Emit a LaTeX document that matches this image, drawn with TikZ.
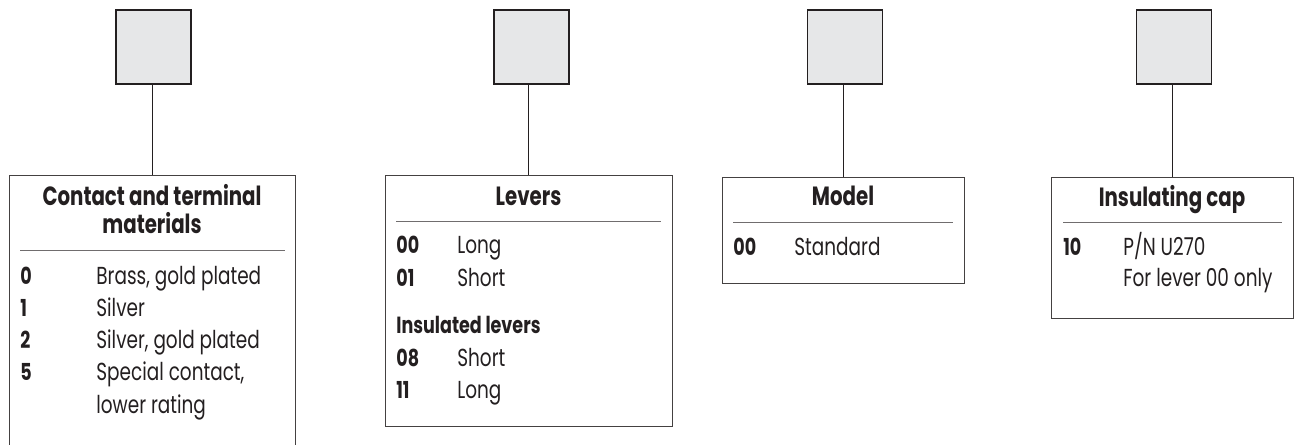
\documentclass[tikz,border=0pt]{standalone}
\usepackage{fontspec}
\setmainfont{Poppins}[FakeStretch=0.75]
\usepackage{tikz}
\usetikzlibrary{shapes,arrows}
\usepackage{xcolor}
\definecolor{boxgray}{HTML}{E6E7E8}
\definecolor{ink}{HTML}{231F20}
\tikzstyle{codebox} = [rectangle, minimum width=1.5cm, minimum height=1.48cm, inner sep=0pt, draw=ink, line width=1pt, fill=boxgray]
\tikzstyle{panel} = [rectangle, inner sep=0pt, draw=ink!85, line width=0.5pt]
\tikzstyle{head} = [anchor=base, inner sep=0pt, text=ink, font=\bfseries\fontsize{15}{18}\selectfont]
\tikzstyle{code} = [anchor=base west, inner sep=0pt, text=ink, font=\bfseries\fontsize{13.3}{16}\selectfont]
\tikzstyle{entry} = [anchor=base west, inner sep=0pt, text=ink, font=\fontsize{14}{17}\selectfont]
\tikzstyle{rule} = [draw=ink!65, line width=0.5pt]
\tikzstyle{link} = [draw=ink, line width=0.5pt]

\begin{document}
\begin{tikzpicture}[x=0.02cm, y=-0.02cm]
    \useasboundingbox (0,0) rectangle (1301,445);
    % code squares
    \node (sq1) [codebox] at (153.5,47) {};
    \node (sq2) [codebox] at (531.5,47) {};
    \node (sq3) [codebox] at (845,47) {};
    \node (sq4) [codebox] at (1174,47) {};

    % option tables
    \node (tab1) [panel, minimum width=5.72cm, minimum height=5.9cm] at (152,322.5) {};
    \node (tab2) [panel, minimum width=5.74cm, minimum height=5.02cm] at (528.5,300.5) {};
    \node (tab3) [panel, minimum width=4.84cm, minimum height=2.12cm] at (843,230) {};
    \node (tab4) [panel, minimum width=4.84cm, minimum height=2.82cm] at (1172,247.5) {};

    \draw [link] (tab1.north) -- (tab1.north |- sq1.south);
    \draw [link] (tab2.north) -- (tab2.north |- sq2.south);
    \draw [link] (tab3.north) -- (tab3.north |- sq3.south);
    \draw [link] (tab4.north) -- (tab4.north |- sq4.south);

    % contact and terminal materials
    \node (hd1a) [head] at (152,206) {Contact and terminal};
    \node (hd1b) [head] at (152,234) {materials};
    \draw [rule] (20,250) -- (285,250);
    \node (c10) [code] at (20,285) {0};
    \node (e10) [entry] at (96,285) {Brass, gold plated};
    \node (c11) [code] at (20,317) {1};
    \node (e11) [entry] at (96,317) {Silver};
    \node (c12) [code] at (20,349) {2};
    \node (e12) [entry] at (96,349) {Silver, gold plated};
    \node (c15) [code] at (20,381) {5};
    \node (e15) [entry] at (96,381) {Special contact,};
    \node (e15b) [entry] at (96,414) {lower rating};

    % levers
    \node (hd2) [head] at (528.5,206) {Levers};
    \draw [rule] (396,221) -- (661,221);
    \node (c200) [code] at (396,254) {00};
    \node (e200) [entry] at (457,254) {Long};
    \node (c201) [code] at (396,287) {01};
    \node (e201) [entry] at (457,287) {Short};
    \node (sub2) [code] at (396,334) {Insulated levers};
    \node (c208) [code] at (396,367) {08};
    \node (e208) [entry] at (457,367) {Short};
    \node (c211) [code] at (396,399) {11};
    \node (e211) [entry] at (457,399) {Long};

    % model
    \node (hd3) [head] at (843,206) {Model};
    \draw [rule] (733,222) -- (953,222);
    \node (c300) [code] at (733,256) {00};
    \node (e300) [entry] at (794,256) {Standard};

    % insulating cap
    \node (hd4) [head] at (1172,207) {Insulating cap};
    \draw [rule] (1063,222) -- (1282,222);
    \node (c410) [code] at (1063,256) {10};
    \node (e410) [entry] at (1123,256) {P/N U270};
    \node (e410b) [entry] at (1123,287) {For lever 00 only};
\end{tikzpicture}
\end{document}
